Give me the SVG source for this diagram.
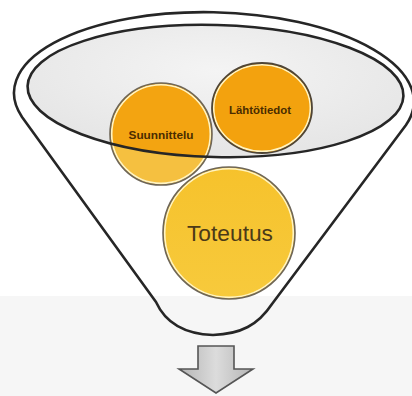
<svg xmlns="http://www.w3.org/2000/svg" width="412" height="396" viewBox="0 0 412 396">
<defs>
<style>
.line{fill:none;stroke:#262626;stroke-width:2.6;stroke-linejoin:round}
.ring{fill:none;stroke:#fff4c4;stroke-width:1.6}
.edge{fill:none;stroke:#6e6658;stroke-width:1.6}
.small{font-family:"Liberation Sans","DejaVu Sans",sans-serif;font-weight:bold;font-size:11px;fill:#4a2c00;text-anchor:middle}
.big{font-family:"Liberation Sans","DejaVu Sans",sans-serif;font-size:22px;fill:#4b3a18;text-anchor:middle}
</style>
<radialGradient id="rimFill" cx="0.5" cy="0.35" r="0.6">
<stop offset="0" stop-color="#f4f4f4"/>
<stop offset="1" stop-color="#e6e6e6"/>
</radialGradient>
<linearGradient id="yellow" x1="0" y1="0" x2="0" y2="1">
<stop offset="0" stop-color="#f6c22c"/>
<stop offset="1" stop-color="#f7ca3c"/>
</linearGradient>
<linearGradient id="arrowFill" x1="0" y1="0" x2="1" y2="0">
<stop offset="0" stop-color="#b4b4b4"/>
<stop offset="0.5" stop-color="#dcdcdc"/>
<stop offset="1" stop-color="#b4b4b4"/>
</linearGradient>
<clipPath id="rimClip">
<ellipse cx="215.5" cy="91" rx="188" ry="66" transform="rotate(1.5 215.5 91)"/>
</clipPath>
</defs>
<rect x="0" y="0" width="412" height="396" fill="#ffffff"/>
<rect x="0" y="296" width="412" height="100" fill="#f6f6f6"/>

<g id="funnel">
<path class="line" d="M22,117 A200 85 1.5 1 1 406,125 L272,304 C258,325 241,334 213,335 C185,334 166,324 156,302 Z"/>
</g>

<g id="rim">
<ellipse cx="215.5" cy="91" rx="188" ry="66" transform="rotate(1.5 215.5 91)" fill="url(#rimFill)"/>
</g>

<g id="toteutus">
<circle cx="229" cy="233" r="66" fill="url(#yellow)"/>
<circle class="ring" cx="229" cy="233" r="64.3"/>
<circle class="edge" cx="229" cy="233" r="66"/>
<text class="big" x="230" y="241" textLength="86" lengthAdjust="spacingAndGlyphs">Toteutus</text>
</g>

<g id="suunnittelu">
<circle cx="161" cy="134" r="51" fill="#f5c040"/>
<circle cx="161" cy="134" r="51" fill="#f3a411" clip-path="url(#rimClip)"/>
<circle class="ring" cx="161" cy="134" r="49.3"/>
<circle class="edge" cx="161" cy="134" r="51"/>
<text class="small" x="161" y="139" textLength="65" lengthAdjust="spacingAndGlyphs">Suunnittelu</text>
</g>

<g id="lahtotiedot">
<ellipse cx="262" cy="108" rx="50" ry="45" fill="#f3a20e"/>
<ellipse class="ring" cx="262" cy="108" rx="48.3" ry="43.3"/>
<ellipse cx="262" cy="108" rx="50" ry="45" fill="none" stroke="#4f4536" stroke-width="1.8"/>
<text class="small" x="260" y="114" textLength="62" lengthAdjust="spacingAndGlyphs">Lähtötiedot</text>
</g>

<g id="rim-edge">
<ellipse class="line" cx="215.5" cy="91" rx="188" ry="66" transform="rotate(1.5 215.5 91)"/>
</g>

<g id="connectors">
<path d="M198,346 L234,346 L234,369 L253,369 L216,393 L179,369 L198,369 Z" fill="url(#arrowFill)" stroke="#555555" stroke-width="1.6" stroke-linejoin="miter"/>
</g>
</svg>
